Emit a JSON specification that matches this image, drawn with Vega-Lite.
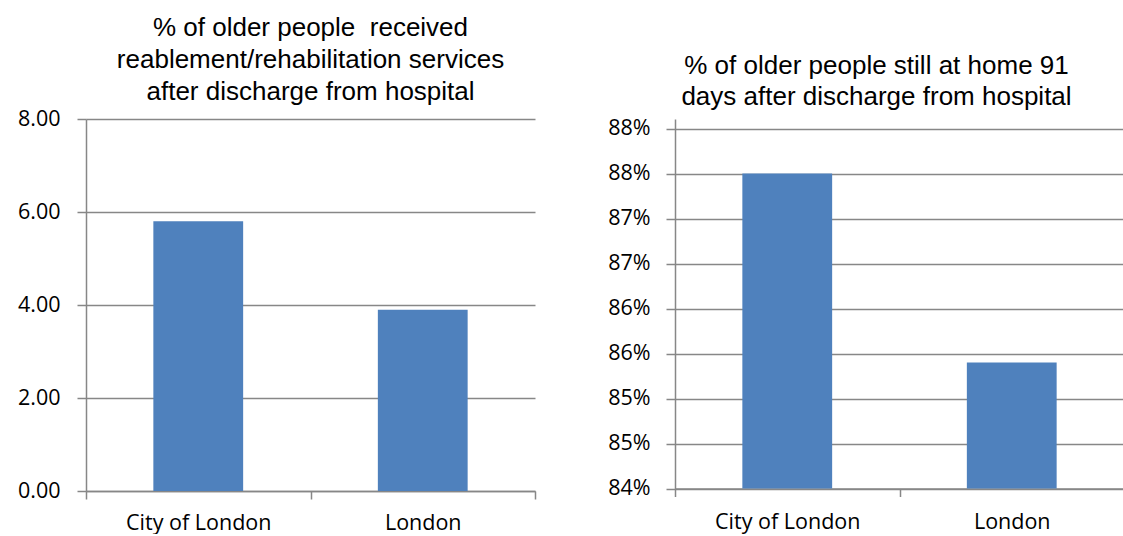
{
  "$schema": "https://vega.github.io/schema/vega-lite/v6.json",
  "padding": {"left": 16, "top": 15, "right": 0, "bottom": 0},
  "background": "white",
  "datasets": {
    "reablement": [
      {"area": "City of London", "value": 5.8},
      {"area": "London", "value": 3.9}
    ],
    "athome": [
      {"area": "City of London", "value": 87.5},
      {"area": "London", "value": 85.4}
    ]
  },
  "columns": 2,
  "spacing": 69,
  "concat": [
    {
      "width": 449,
      "height": 372,
      "title": {
        "text": ["% of older people\u00a0 received", "reablement/rehabilitation services", "after discharge from hospital"],
        "offset": 3,
        "lineHeight": 32
      },
      "data": {"name": "reablement"},
      "mark": {"type": "bar", "width": {"band": 0.4}, "color": "#4F81BD"},
      "encoding": {
        "x": {
          "field": "area", "type": "nominal", "sort": null, "title": null,
          "scale": {"paddingInner": 0, "paddingOuter": 0},
          "axis": {"tickBand": "extent", "tickSize": 8, "labelPadding": 13, "labelAngle": 0, "grid": false}
        },
        "y": {
          "field": "value", "type": "quantitative", "title": null,
          "scale": {"domain": [0, 8]},
          "axis": {"values": [0, 2, 4, 6, 8], "format": ".2f", "tickSize": 9, "labelPadding": 17, "minExtent": 70, "maxExtent": 70, "grid": true}
        }
      }
    },
    {
      "width": 449,
      "height": 369.5,
      "title": {
        "text": ["% of older people still at home 91", "days after discharge from hospital"],
        "offset": 7.5,
        "lineHeight": 31,
        "dx": -23
      },
      "data": {"name": "athome"},
      "mark": {"type": "bar", "width": {"band": 0.4}, "color": "#4F81BD", "clip": true},
      "encoding": {
        "x": {
          "field": "area", "type": "nominal", "sort": null, "title": null,
          "scale": {"paddingInner": 0, "paddingOuter": 0},
          "axis": {"tickBand": "extent", "tickSize": 8, "labelPadding": 14.5, "labelAngle": 0, "grid": false}
        },
        "y": {
          "field": "value", "type": "quantitative", "title": null,
          "scale": {"domain": [84, 88.1056], "zero": false, "nice": false},
          "axis": {"values": [84, 84.5, 85, 85.5, 86, 86.5, 87, 87.5, 88], "labelExpr": "round(datum.value) + '%'", "tickSize": 9, "labelPadding": 16, "minExtent": 70, "maxExtent": 70, "grid": true}
        }
      }
    }
  ],
  "config": {
    "view": {"stroke": null},
    "axis": {
      "domainColor": "#878787", "domainWidth": 1.5,
      "tickColor": "#878787", "tickWidth": 1.5,
      "gridColor": "#878787", "gridWidth": 1.5,
      "labelFont": "Open Sans", "labelFontSize": 21.5, "labelColor": "#000000"
    },
    "title": {"font": "Liberation Sans", "fontSize": 26, "fontWeight": "normal", "color": "#000000", "anchor": "middle"}
  }
}
